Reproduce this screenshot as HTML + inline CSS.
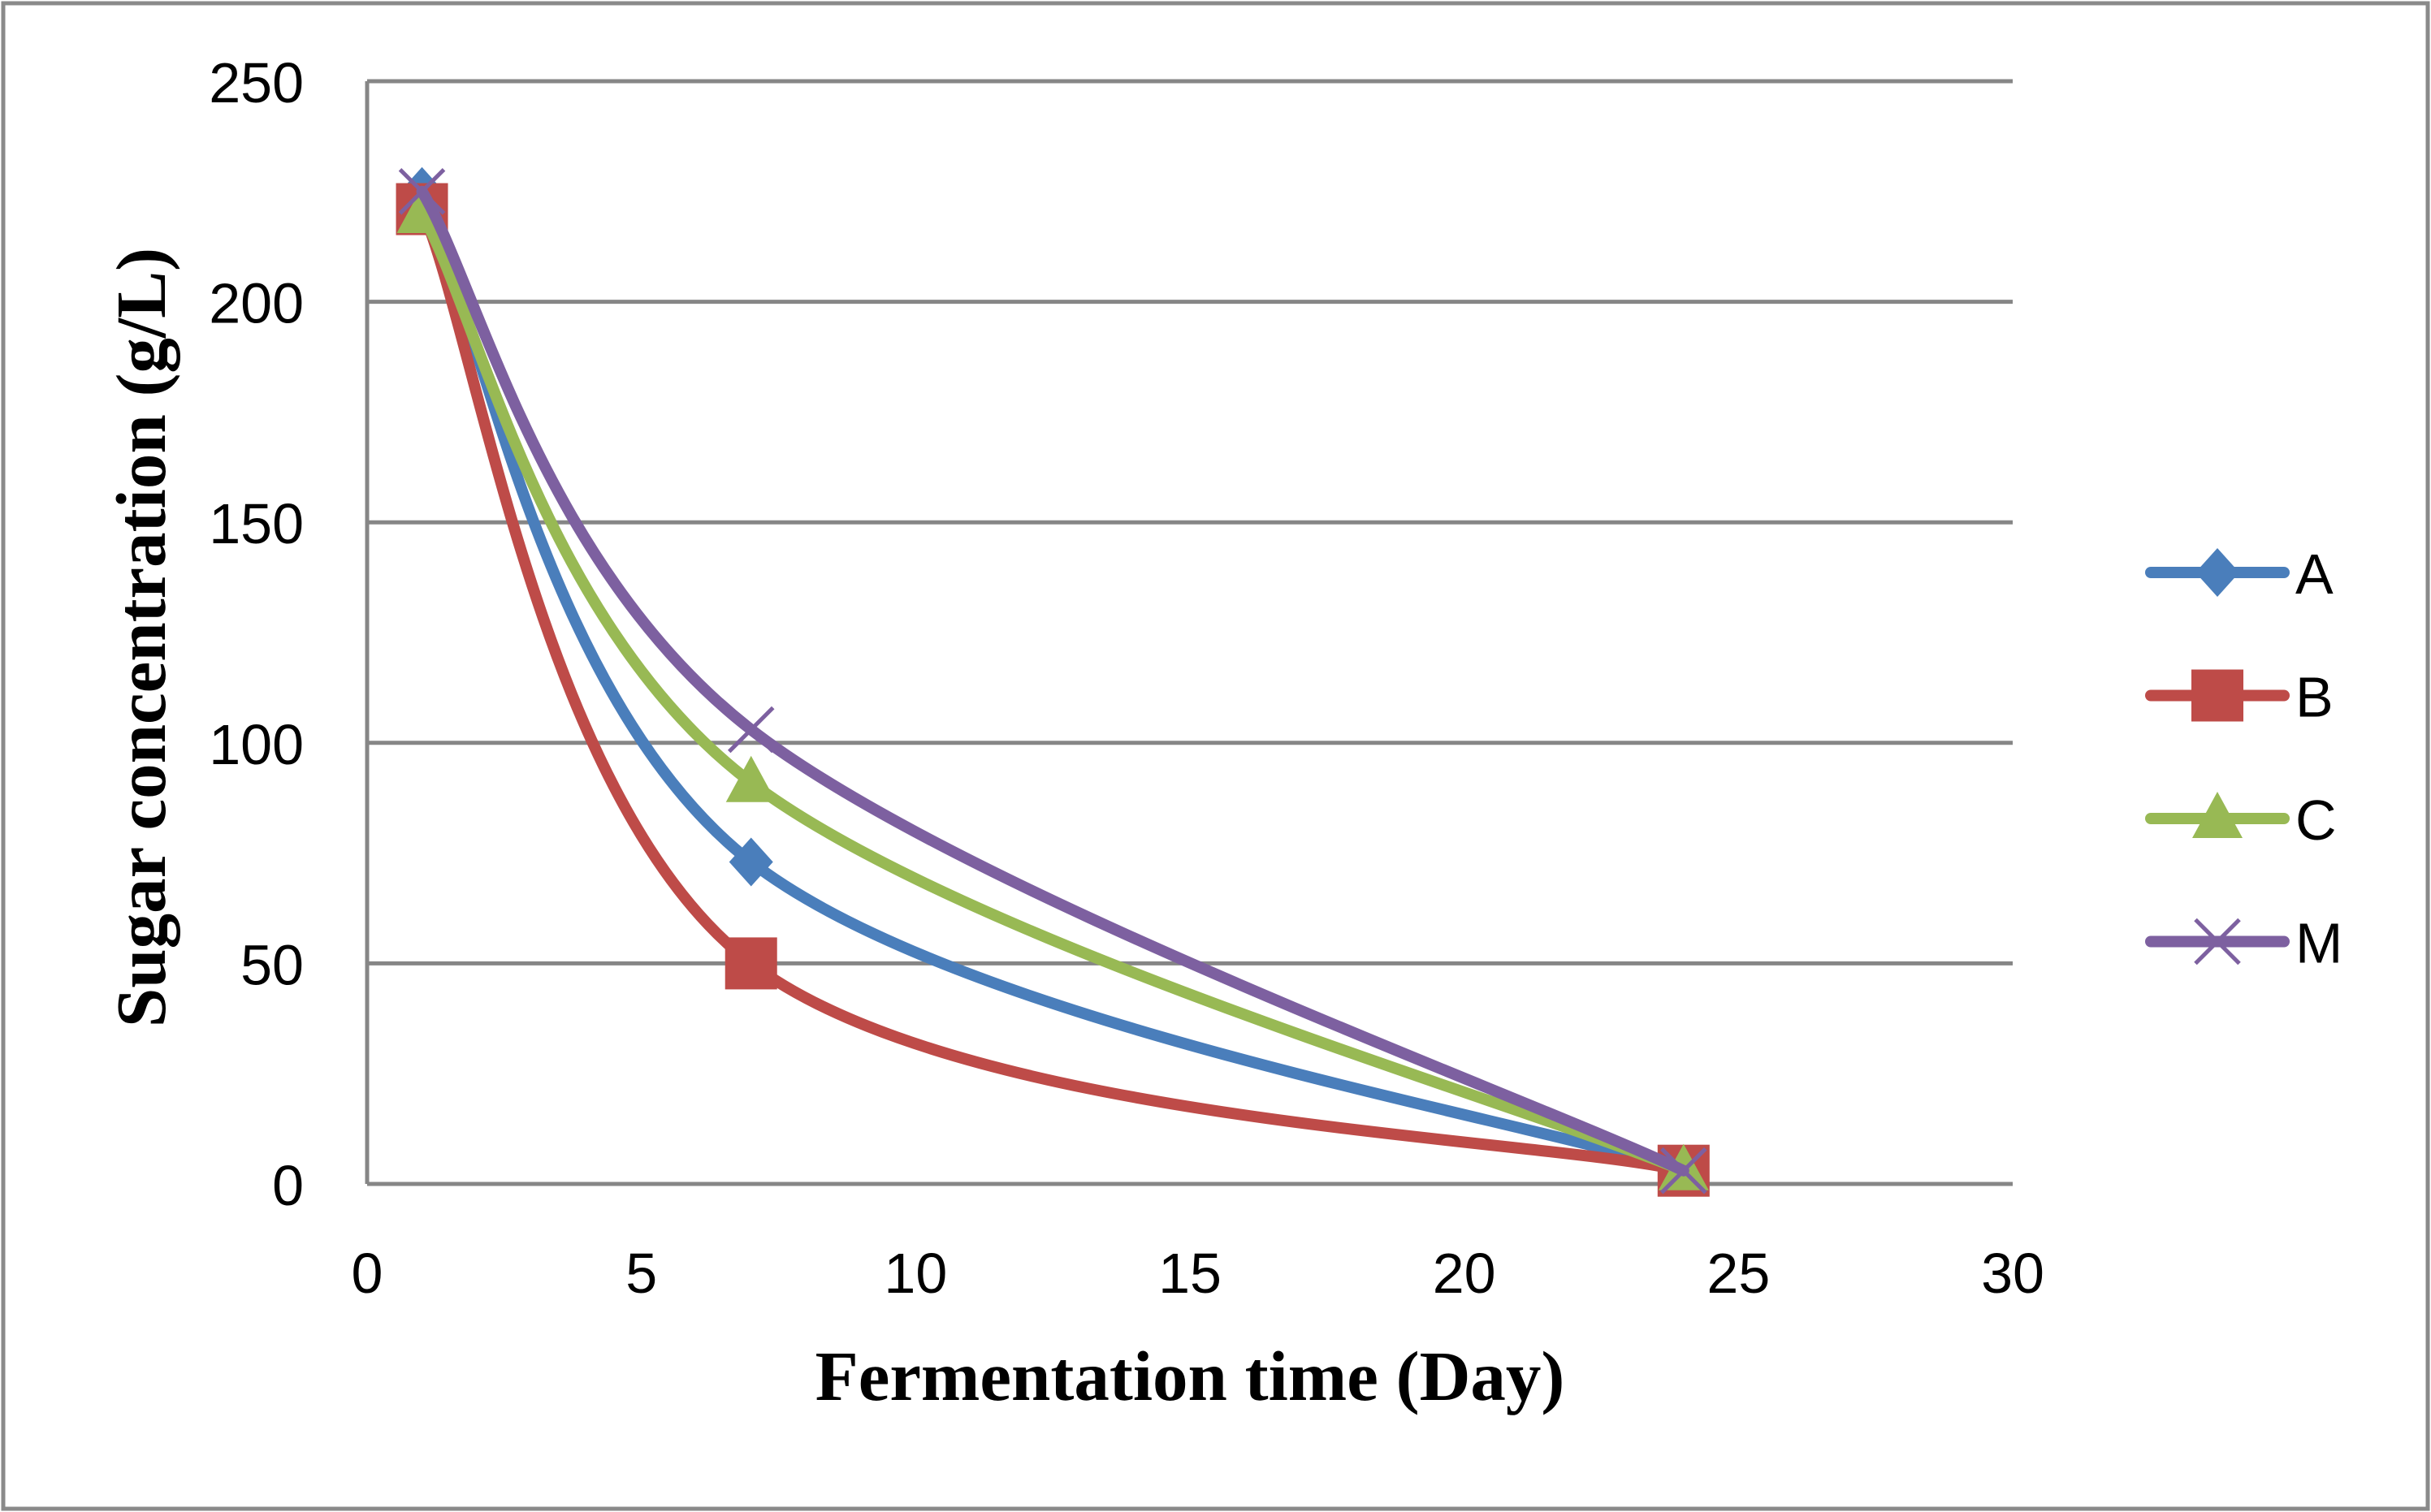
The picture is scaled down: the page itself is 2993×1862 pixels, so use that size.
<!DOCTYPE html>
<html><head><meta charset="utf-8"><style>body{margin:0;background:#fff}svg{display:block}</style></head>
<body>
<svg id="chart" width="2993" height="1862" xmlns="http://www.w3.org/2000/svg" font-family="'Liberation Sans', sans-serif">
<rect x="4" y="4" width="2985" height="1854" fill="#fff" stroke="#8a8a8a" stroke-width="5"/>
<g id="grid"></g><g id="series"></g><g id="legend"></g>
<text x="1465" y="1724" text-anchor="middle" font-family="'Liberation Serif', serif" font-weight="bold" font-size="87">Fermentation time (Day)</text>
<text transform="translate(203,785) rotate(-90)" text-anchor="middle" font-family="'Liberation Serif', serif" font-weight="bold" font-size="87">Sugar concentration (g/L)</text>
</svg>
<script>
const days=[1,7,24];
const seriesNames=["A","B","C","M"];
const valuesA=[225,73,3];
const valuesB=[221,50,3];
const valuesC=[220,91,3];
const valuesM=[225,103,3];
const xTicks=[0,5,10,15,20,25,30];
const yTicks=[0,50,100,150,200,250];
const colors=["#4a7ebb","#be4b48","#98b954","#7d60a0"];
const NS="http://www.w3.org/2000/svg";
const X0=452,X1=2478,Y0=1458,Y1=100;
const xs=v=>X0+(X1-X0)*v/30, ys=v=>Y0-(Y0-Y1)*v/250;
function mk(t,a,p){const e=document.createElementNS(NS,t);for(const k in a)e.setAttribute(k,a[k]);p.appendChild(e);return e;}
const grid=document.getElementById('grid');
yTicks.forEach(v=>{
 const l=mk('line',{x1:X0,x2:X1,y1:ys(v),y2:ys(v),stroke:'#868686','stroke-width':5},grid);
 
 
 const t=mk('text',{x:374,y:ys(v)+26,'text-anchor':'end','font-size':70,fill:'#000'},grid);t.textContent=v;
 
 
});
const ax=mk('line',{x1:X0,x2:X0,y1:Y1,y2:Y0,stroke:'#868686','stroke-width':5},grid);


xTicks.forEach(v=>{
 const t=mk('text',{x:xs(v),y:1592,'text-anchor':'middle','font-size':70},grid);t.textContent=v;
 
 
});
function marker(i,x,y,g){
 const c=colors[i];let m;
 if(i==0)m=mk('polygon',{points:`${x},${y-30} ${x+27},${y} ${x},${y+30} ${x-27},${y}`,fill:c},g);
 else if(i==1)m=mk('rect',{x:x-32,y:y-32,width:64,height:64,fill:c},g);
 else if(i==2)m=mk('polygon',{points:`${x},${y-33} ${x+31},${y+24} ${x-31},${y+24}`,fill:c},g);
 else m=mk('path',{d:`M${x-27},${y-27}L${x+27},${y+27}M${x+27},${y-27}L${x-27},${y+27}`,stroke:c,'stroke-width':5,fill:'none'},g);
 return m;
}
const sg=document.getElementById('series');
[valuesA,valuesB,valuesC,valuesM].forEach((vals,i)=>{
 const p=days.map((d,j)=>[xs(d),ys(vals[j])]);
 let d=`M${p[0][0]},${p[0][1]}`;
 for(let k=0;k<p.length-1;k++){
  const p0=p[k-1]||p[k],p1=p[k],p2=p[k+1],p3=p[k+2]||p[k+1];
  const c1=[p1[0]+(p2[0]-p0[0])/6,p1[1]+(p2[1]-p0[1])/6],c2=[p2[0]-(p3[0]-p1[0])/6,p2[1]-(p3[1]-p1[1])/6];
  d+=`C${c1[0]},${c1[1]} ${c2[0]},${c2[1]} ${p2[0]},${p2[1]}`;
 }
 const g=mk('g',{},sg);
 
 
 mk('path',{d,stroke:colors[i],'stroke-width':14,fill:'none','stroke-linecap':'round'},g);
 p.forEach(q=>{const m=marker(i,q[0],q[1],g);
  
  });
});
const lg=document.getElementById('legend');
seriesNames.forEach((n,i)=>{
 const y=705+i*151.5;
 const g=mk('g',{},lg);
 
 
 mk('line',{x1:2648,x2:2812,y1:y,y2:y,stroke:colors[i],'stroke-width':14,'stroke-linecap':'round'},g);
 marker(i,2730,y,g);
 const t=mk('text',{x:2826,y:y+26,'font-size':70},g);t.textContent=n;
});
</script>
</body></html>
